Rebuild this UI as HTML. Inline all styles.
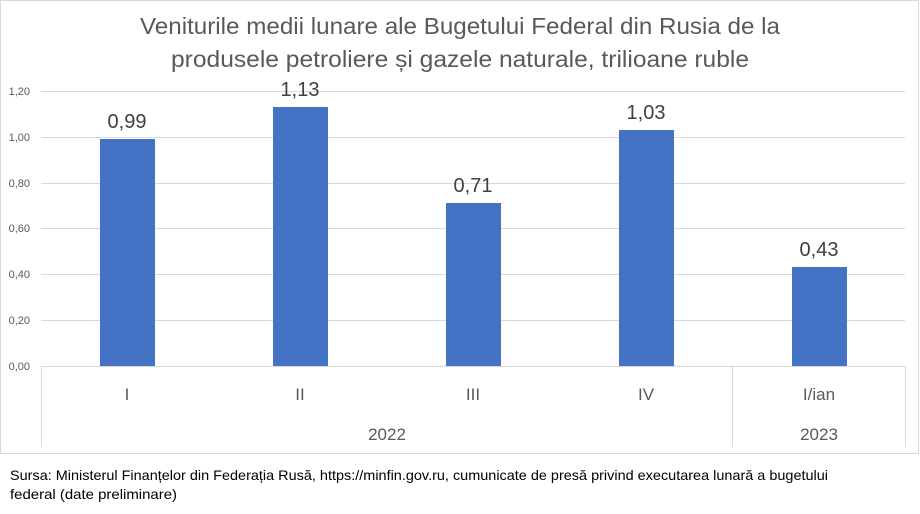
<!DOCTYPE html>
<html><head><meta charset="utf-8"><style>
body{margin:0;background:#fff;width:920px;height:509px;overflow:hidden}
</style></head><body>
<svg width="920" height="509" xmlns="http://www.w3.org/2000/svg" font-family="Liberation Sans, sans-serif">
<rect x="0.5" y="0.5" width="918" height="453" fill="#fff" stroke="#d9d9d9"/>
<text x="460" y="34" text-anchor="middle" font-size="23" fill="#595959" textLength="640" lengthAdjust="spacingAndGlyphs">Veniturile medii lunare ale Bugetului Federal din Rusia de la</text>
<text x="460" y="67" text-anchor="middle" font-size="23" fill="#595959" textLength="578" lengthAdjust="spacingAndGlyphs">produsele petroliere și gazele naturale, trilioane ruble</text>
<g stroke="#d9d9d9" stroke-width="1">
<line x1="41" x2="905" y1="91.5" y2="91.5"/>
<line x1="41" x2="905" y1="137.5" y2="137.5"/>
<line x1="41" x2="905" y1="183.5" y2="183.5"/>
<line x1="41" x2="905" y1="228.5" y2="228.5"/>
<line x1="41" x2="905" y1="274.5" y2="274.5"/>
<line x1="41" x2="905" y1="320.5" y2="320.5"/>
<line x1="41" x2="905" y1="366.5" y2="366.5"/>
<line x1="41.5" x2="41.5" y1="366" y2="447"/>
<line x1="732.5" x2="732.5" y1="366" y2="447"/>
<line x1="905.5" x2="905.5" y1="366" y2="447"/>
</g>
<g font-size="11" fill="#595959" text-anchor="end">
<text x="30" y="95">1,20</text><text x="30" y="141">1,00</text><text x="30" y="187">0,80</text>
<text x="30" y="232">0,60</text><text x="30" y="278">0,40</text><text x="30" y="324">0,20</text><text x="30" y="370">0,00</text>
</g>
<g fill="#4472c4">
<rect x="100" y="139" width="55" height="227"/>
<rect x="273" y="107" width="55" height="259"/>
<rect x="446" y="203" width="55" height="163"/>
<rect x="619" y="130" width="55" height="236"/>
<rect x="792" y="267" width="55" height="99"/>
</g>
<g font-size="20" fill="#404040" text-anchor="middle">
<text x="127" y="128">0,99</text><text x="300" y="96">1,13</text><text x="473" y="192">0,71</text>
<text x="646" y="119">1,03</text><text x="819" y="256">0,43</text>
</g>
<g font-size="17" fill="#595959" text-anchor="middle">
<text x="127" y="400">I</text><text x="300" y="400">II</text><text x="473" y="400">III</text>
<text x="646" y="400">IV</text><text x="819" y="400">I/ian</text>
<text x="387" y="440">2022</text><text x="819" y="440">2023</text>
</g>
<g font-size="14" fill="#000">
<text x="10" y="480" textLength="818" lengthAdjust="spacingAndGlyphs">Sursa: Ministerul Finanțelor din Federația Rusă, https://minfin.gov.ru,  cumunicate de presă privind executarea lunară a bugetului</text>
<text x="10" y="499" textLength="167" lengthAdjust="spacingAndGlyphs">federal (date preliminare)</text>
</g>
</svg>
</body></html>
